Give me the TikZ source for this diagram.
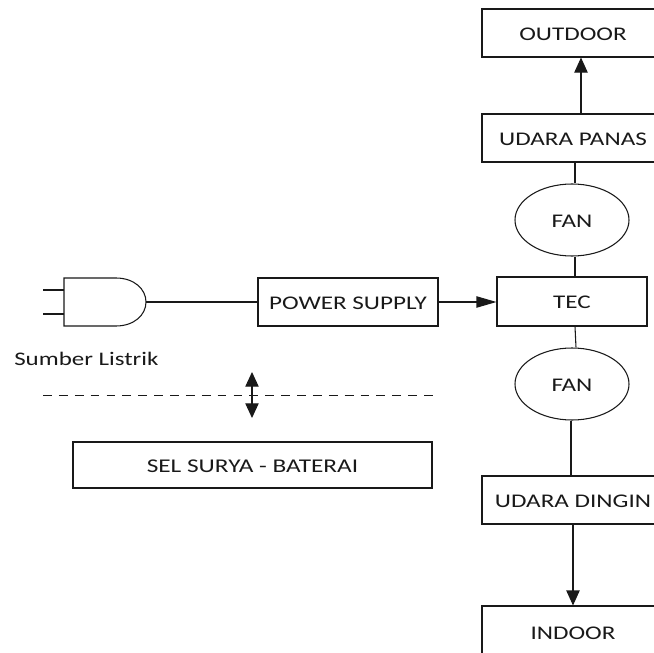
\documentclass[tikz,border=0pt]{standalone}
\usepackage{fontspec}
\setmainfont[FakeStretch=1.3]{Carlito}
\usetikzlibrary{arrows.meta,shapes.geometric}
\tikzset{
  ln/.style={draw=black!90,line width=0.8pt},
  box/.style={ln,rectangle,inner sep=0pt,text height=10.8pt,text depth=0pt,font=\fontsize{14.5}{16}\selectfont,text=black!90},
  fan/.style={ln,ellipse,inner sep=0pt,text height=10.8pt,text depth=0pt,font=\fontsize{14.5}{16}\selectfont,text=black!90},
  tip/.style={-{Triangle[length=11.25pt,width=10pt]}},
  tiph/.style={-{Triangle[length=15pt,width=8.5pt]}},
  tipb/.style={{Triangle[length=11pt,width=10pt]}-{Triangle[length=11pt,width=10pt]}}
}
\begin{document}
\begin{tikzpicture}[x=0.75pt,y=-0.75pt]
\useasboundingbox (0,0) rectangle (654,653);
\def\bx#1#2#3#4#5#6{\node[box,minimum width=#4*0.75pt-#2*0.75pt,minimum height=#5*0.75pt-#3*0.75pt] (#1) at ({(#2+#4)/2},{(#3+#5)/2}) {#6};}
\bx{outdoor}{482}{9}{664}{57}{OUTDOOR}
\bx{panas}{482}{114}{664}{162}{UDARA PANAS}
\bx{tec}{497}{277}{647}{326}{TEC}
\bx{dingin}{482}{476}{664}{524}{UDARA DINGIN}
\bx{indoor}{482}{606}{664}{658}{INDOOR}
\bx{psu}{258}{278}{438}{326}{POWER SUPPLY}
\bx{sel}{73}{442}{432}{488}{\fontsize{14.6}{16}\selectfont SEL SURYA - BATERAI}
\node[fan,minimum width=85.5pt,minimum height=54pt] (fan1) at (572,220) {FAN};
\node[fan,minimum width=85.5pt,minimum height=54pt] (fan2) at (572,384) {FAN};
\node[font=\fontsize{14.4}{16}\selectfont,text=black!90,anchor=base west,inner sep=0pt] (sumber) at (14,365) {Sumber Listrik};
% plug
\coordinate (plugl) at (64,278);
\coordinate (plugout) at (146,302);
\coordinate (p1) at (43,290);
\coordinate (p1e) at (64,290);
\coordinate (p2) at (43,314);
\coordinate (p2e) at (64,314);
\draw[ln] (plugl) -- (116,278) .. controls (134,278) and (146,289) .. (plugout) .. controls (146,315) and (134,326) .. (116,326) -- (64,326) -- cycle;
\draw[ln] (p1) -- (p1e);
\draw[ln] (p2) -- (p2e);
\draw[ln] (plugout) -- (psu.west);
\draw[ln,tiph] (psu.east) -- (tec.west |- psu.east);
\draw[ln] (tec.north -| 575,0) -- (fan1.south -| 575,0);
\draw[ln] (fan1.north -| 575,0) -- (panas.south -| 575,0);
\draw[ln] (tec.south -| 575,0) -- (fan2.north -| 576,0);
\draw[ln] (fan2.south -| 571,0) -- (dingin.north -| 571,0);
\draw[ln,tip] (panas.north -| 581,0) -- (outdoor.south -| 581,0);
\draw[ln,tip] (dingin.south) -- (indoor.north);
% dashed
\coordinate (da) at (43,395);
\coordinate (db) at (433,395);
\draw[ln,line width=0.7pt,dash pattern=on 6.6pt off 5.31pt] (da) -- (db);
\coordinate (ua) at (252,372);
\coordinate (ub) at (252,418);
\draw[ln,tipb] (ua) -- (ub);
\end{tikzpicture}
\end{document}
